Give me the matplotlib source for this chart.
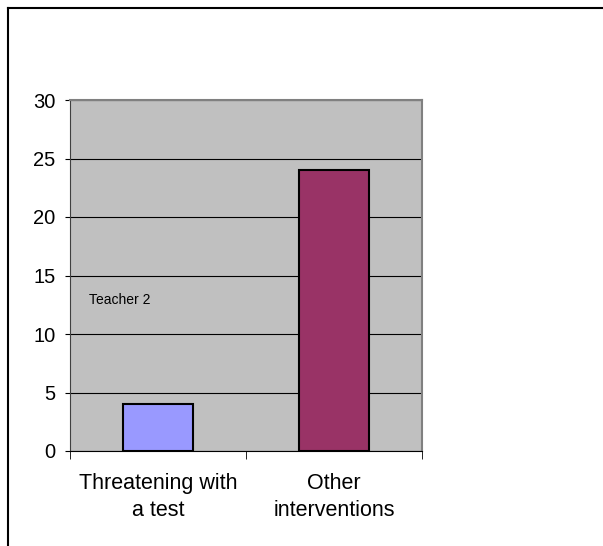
import matplotlib.pyplot as plt
from matplotlib.lines import Line2D

plt.rcParams["font.family"] = ["Liberation Sans", "DejaVu Sans"]

categories = ["Threatening with\na test", "Other\ninterventions"]
counts = [4, 24]
bar_colors = ["#9999FF", "#993366"]
y_ticks = [0, 5, 10, 15, 20, 25, 30]

fig = plt.figure(figsize=(6.03, 5.46), dpi=100)
W, H = 603, 546

# outer chart frame (top and left edges)
fig.add_artist(Line2D([8 / W, 1], [1 - 8 / H, 1 - 8 / H], color="black", lw=1.5))
fig.add_artist(Line2D([8 / W, 8 / W], [0, 1 - 8 / H], color="black", lw=1.5))

ax = fig.add_axes([70 / W, 1 - 451 / H, 352 / W, 351 / H])
ax.set_facecolor("#C0C0C0")

x = range(len(categories))
ax.bar(x, counts, width=0.4, color=bar_colors, edgecolor="black", linewidth=1.5, zorder=3)

ax.set_xlim(-0.5, 1.5)
ax.set_ylim(0, 30)
ax.set_yticks(y_ticks)
ax.yaxis.grid(True, color="black", linewidth=0.8, zorder=1)
ax.set_axisbelow(True)

ax.set_xticks(x)
ax.set_xticklabels(categories, fontsize=15.5, linespacing=1.35)
ax.tick_params(axis="x", length=0, pad=16)
# category separator ticks
ax.set_xticks([-0.5, 0.5, 1.5], minor=True)
ax.tick_params(axis="x", which="minor", length=6, direction="out", color="black")
ax.tick_params(axis="y", labelsize=14.5, length=3.6, direction="out", pad=7)

for side in ["top", "right"]:
    ax.spines[side].set_color("#808080")
    ax.spines[side].set_linewidth(1.5)
ax.spines["left"].set_color("#404040")
ax.spines["bottom"].set_color("black")

ax.text(0.053, 0.43, "Teacher 2", transform=ax.transAxes, fontsize=10,
        va="center", ha="left")

fig.savefig("out.png", dpi=100, facecolor="white")
